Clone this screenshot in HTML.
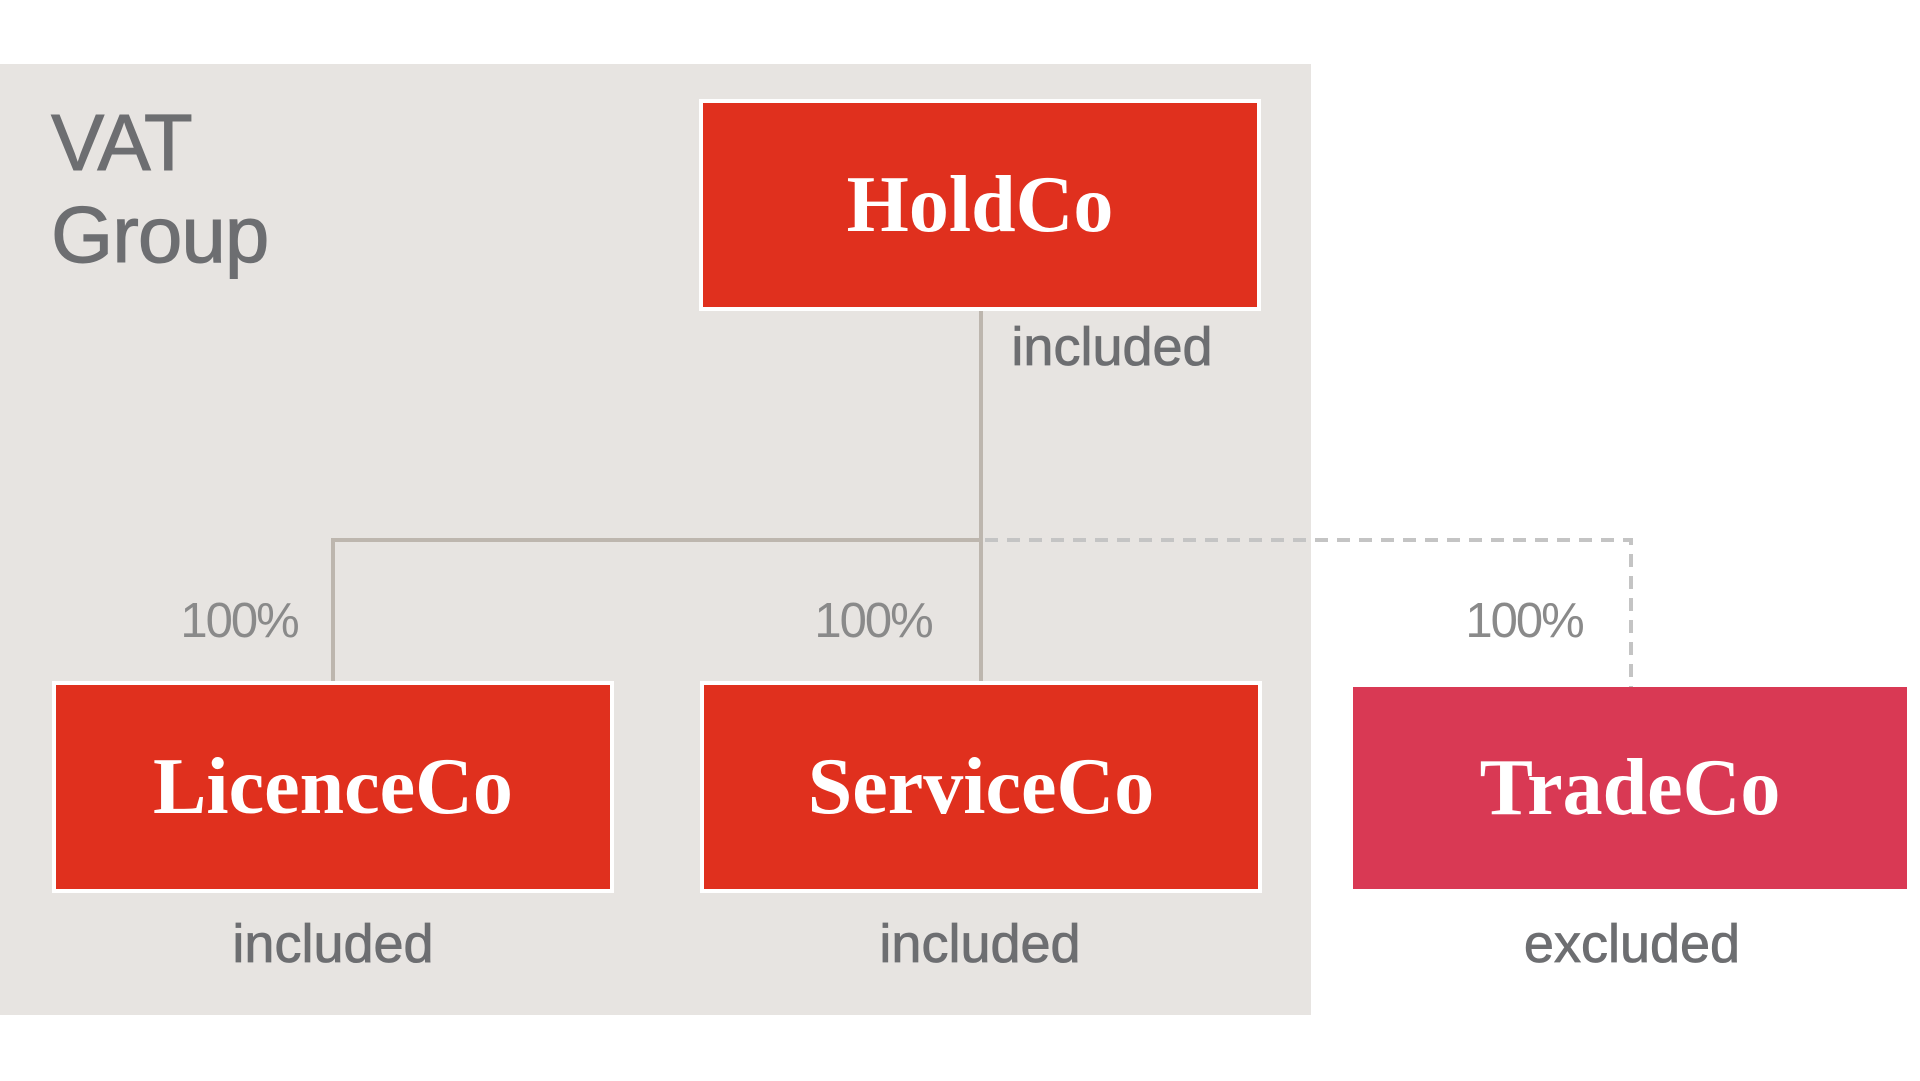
<!DOCTYPE html>
<html><head><style>
body{margin:0;width:1920px;height:1081px;background:#fff;position:relative;overflow:hidden;font-family:"Liberation Sans",sans-serif}
.a{position:absolute}
.box{position:absolute;background:#e0301e;box-shadow:0 0 0 4px #fff;color:#fff;font-family:"Liberation Serif",serif;font-weight:bold;font-size:80px;display:flex;align-items:center;justify-content:center}
.lbl{position:absolute;color:#6d6e71;font-size:54px;transform:translateX(-50%);white-space:nowrap;line-height:1;-webkit-text-stroke:0.8px #6d6e71}
.pct{position:absolute;color:#8a8a8a;font-size:49px;transform:translateX(-50%);line-height:1;letter-spacing:-2px}
</style></head><body>
<div class="a" style="left:0;top:64px;width:1311px;height:951px;background:#e7e4e1"></div>
<div class="a" style="left:51px;top:97px;color:#6d6e71;font-size:80px;line-height:92px;letter-spacing:-1px;-webkit-text-stroke:1px #6d6e71">VAT<br>Group</div>
<svg class="a" style="left:0;top:0" width="1920" height="1081">
<g stroke="#bdb6ae" stroke-width="4" fill="none">
<line x1="981" y1="311" x2="981" y2="682"/>
<polyline points="981,540 333,540 333,682"/>
</g>
<polyline points="985,540 1631,540 1631,687" stroke="#c4c4c4" stroke-width="4" fill="none" stroke-dasharray="13,9"/>
</svg>
<div class="box" style="left:703px;top:103px;width:554px;height:204px">HoldCo</div>
<div class="box" style="left:56px;top:685px;width:554px;height:204px">LicenceCo</div>
<div class="box" style="left:704px;top:685px;width:554px;height:204px">ServiceCo</div>
<div class="box" style="left:1353px;top:687px;width:554px;height:202px;background:#d93954;box-shadow:none">TradeCo</div>
<div class="lbl" style="left:1112px;top:320px">included</div>
<div class="lbl" style="left:333px;top:917px">included</div>
<div class="lbl" style="left:980px;top:917px">included</div>
<div class="lbl" style="left:1632px;top:917px">excluded</div>
<div class="pct" style="left:239px;top:597px">100%</div>
<div class="pct" style="left:873px;top:597px">100%</div>
<div class="pct" style="left:1524px;top:597px">100%</div>
</body></html>
